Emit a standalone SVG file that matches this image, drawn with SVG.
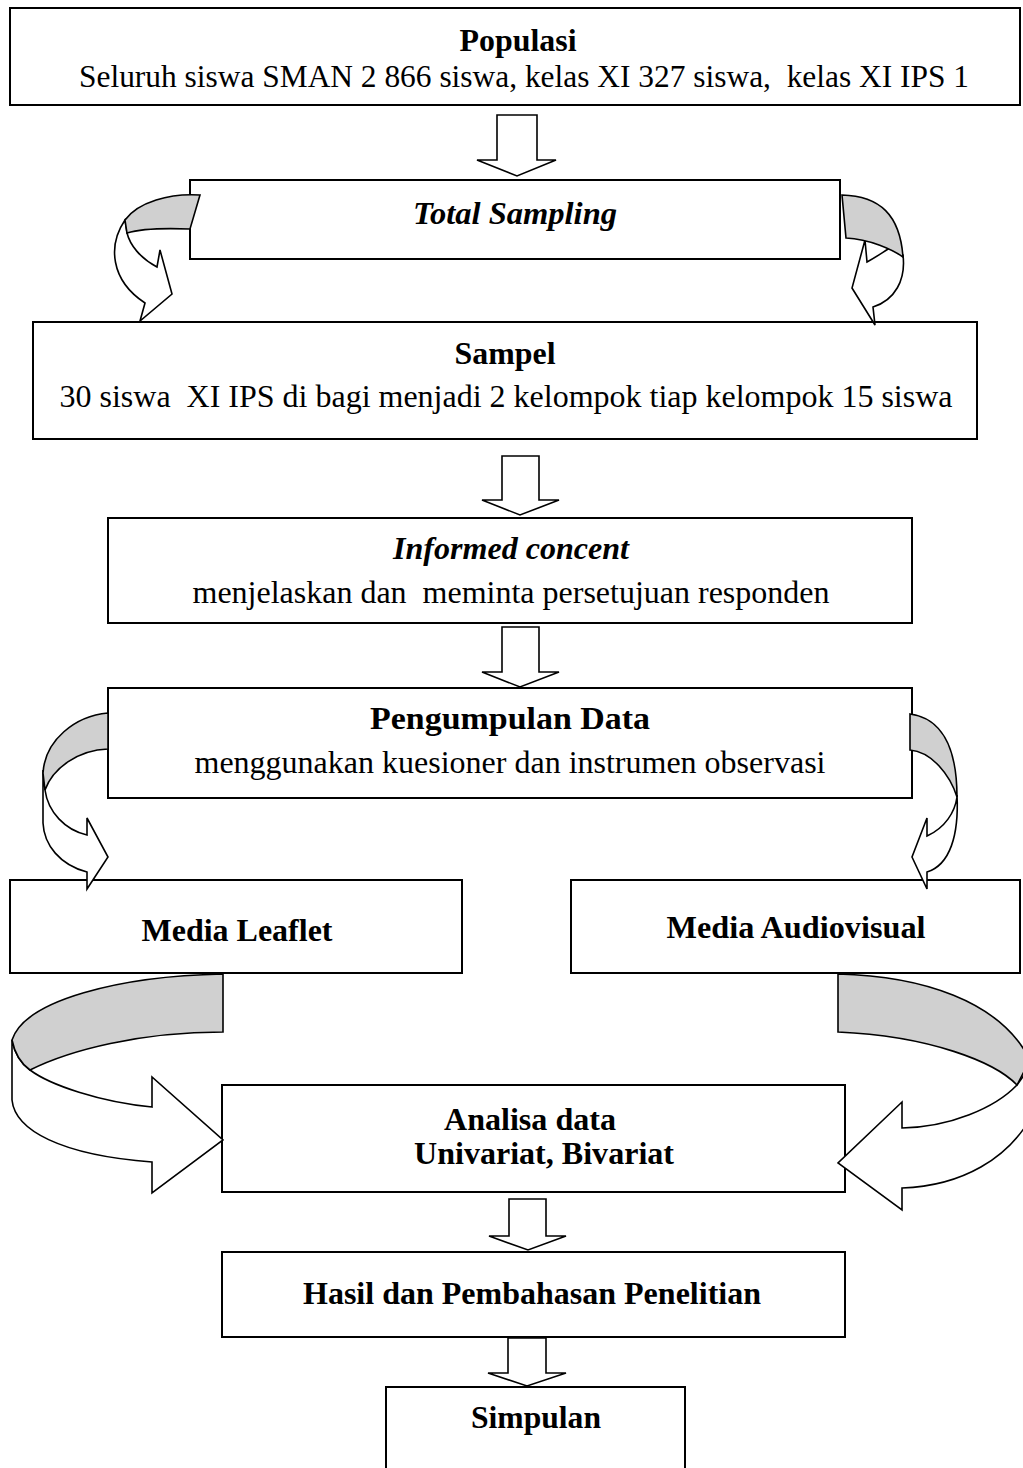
<svg xmlns="http://www.w3.org/2000/svg" width="1023" height="1468" viewBox="0 0 1023 1468" font-family="'Liberation Serif', 'Times New Roman', serif">
<style>
.box{fill:#fff;stroke:#000;stroke-width:2}
.arr{fill:#fff;stroke:#000;stroke-width:1.6;stroke-linejoin:miter}
.band{fill:#d0d0d0;stroke:#000;stroke-width:1.6;stroke-linejoin:miter}
text{font-family:'Liberation Serif','Times New Roman',serif;font-size:31px;fill:#000;text-anchor:middle;white-space:pre}
.b{font-weight:bold}
.bi{font-weight:bold;font-style:italic}
</style>
<rect width="1023" height="1468" fill="#fff"/>
<g id="populasi">
<rect class="box" x="10" y="8" width="1010" height="97"/>
<text class="b" x="518" y="51" textLength="117" lengthAdjust="spacingAndGlyphs">Populasi</text>
<text x="524" y="87" textLength="890" lengthAdjust="spacingAndGlyphs">Seluruh siswa SMAN 2 866 siswa, kelas XI 327 siswa,  kelas XI IPS 1</text>
</g>
<g id="total-sampling">
<rect class="box" x="190" y="180" width="650" height="79"/>
<text class="bi" x="515" y="224" textLength="204" lengthAdjust="spacingAndGlyphs">Total Sampling</text>
</g>
<g id="sampel">
<rect class="box" x="33" y="322" width="944" height="117"/>
<text class="b" x="505" y="364" textLength="101" lengthAdjust="spacingAndGlyphs">Sampel</text>
<text x="506" y="407" textLength="893" lengthAdjust="spacingAndGlyphs">30 siswa  XI IPS di bagi menjadi 2 kelompok tiap kelompok 15 siswa</text>
</g>
<g id="informed">
<rect class="box" x="108" y="518" width="804" height="105"/>
<text class="bi" x="511" y="559" textLength="236" lengthAdjust="spacingAndGlyphs">Informed concent</text>
<text x="511" y="603" textLength="637" lengthAdjust="spacingAndGlyphs">menjelaskan dan  meminta persetujuan responden</text>
</g>
<g id="pengumpulan">
<rect class="box" x="108" y="688" width="804" height="110"/>
<text class="b" x="510" y="729" textLength="280" lengthAdjust="spacingAndGlyphs">Pengumpulan Data</text>
<text x="510" y="773" textLength="631" lengthAdjust="spacingAndGlyphs">menggunakan kuesioner dan instrumen observasi</text>
</g>
<g id="leaflet">
<rect class="box" x="10" y="880" width="452" height="93"/>
<text class="b" x="237" y="941" textLength="191" lengthAdjust="spacingAndGlyphs">Media Leaflet</text>
</g>
<g id="audiovisual">
<rect class="box" x="571" y="880" width="449" height="93"/>
<text class="b" x="796" y="938" textLength="259" lengthAdjust="spacingAndGlyphs">Media Audiovisual</text>
</g>
<g id="analisa">
<rect class="box" x="222" y="1085" width="623" height="107"/>
<text class="b" x="530" y="1130" textLength="172" lengthAdjust="spacingAndGlyphs">Analisa data</text>
<text class="b" x="544" y="1164" textLength="260" lengthAdjust="spacingAndGlyphs">Univariat, Bivariat</text>
</g>
<g id="hasil">
<rect class="box" x="222" y="1252" width="623" height="85"/>
<text class="b" x="532" y="1304" textLength="458" lengthAdjust="spacingAndGlyphs">Hasil dan Pembahasan Penelitian</text>
</g>
<g id="simpulan">
<rect class="box" x="386" y="1387" width="299" height="100"/>
<text class="b" x="536" y="1428" textLength="130" lengthAdjust="spacingAndGlyphs">Simpulan</text>
</g>
<g id="connectors">
<polygon class="arr" points="497,115 497,160 477,160 517,176 556,160 537,160 537,115"/>
<polygon class="arr" points="502,456 502,500 482,500 520,515 559,500 539,500 539,456"/>
<polygon class="arr" points="502,627 502,672 482,672 520,687 559,672 539,672 539,627"/>
<polygon class="arr" points="509,1199 509,1236 489,1236 528,1250 566,1236 546,1236 546,1199"/>
<polygon class="arr" points="508,1338 508,1373 488,1373 527,1386 566,1373 546,1373 546,1338"/>
<path class="arr" d="M125,220 C108,245 110,280 145,303 L140,321 L172,294 L160,250 L157,267 C140,258 130,245 127,233 Z"/>
<path class="band" d="M200,195 C170,193 138,202 125,220 L127,233 C140,229 165,228 190,229 Z"/>
<path class="arr" d="M903,255 C906,280 895,300 873,307 L875,325 L852,288 L865,240 L867,262 C878,256 886,250 890,248 Z"/>
<path class="band" d="M842,195 C880,196 900,215 903,257 C893,250 870,239 846,238 Z"/>
<path class="arr" d="M43,770 L43,823 C44,845 60,865 87,872 L87,889 L108,857 L87,818 L87,835 C65,830 48,812 45,790 Z"/>
<path class="band" d="M108,713 C75,716 45,740 43,773 L45,790 C53,768 78,750 108,749 Z"/>
<path class="arr" d="M957,795 C959,835 950,865 927,872 L927,889 L912,857 L927,818 L927,836 C945,828 955,812 957,797 Z"/>
<path class="band" d="M910,714 C940,718 957,745 957,797 C950,775 932,752 910,750 Z"/>
<path class="arr" d="M12,1040 L12,1100 C15,1130 60,1155 152,1162 L152,1193 L223,1140 L152,1077 L152,1107 C100,1102 50,1085 30,1070 Q16,1060 12,1040 Z"/>
<path class="band" d="M223,974 C120,976 25,1000 12,1040 Q16,1060 30,1070 C70,1050 140,1032 223,1032 Z"/>
<path class="arr" d="M1017,1085 C995,1108 950,1127 902,1128 L902,1102 L838,1163 L902,1210 L902,1188 C960,1186 1010,1160 1035,1110 L1035,1060 Z"/>
<path class="band" d="M838,974 C920,976 1000,1000 1030,1060 L1017,1085 C995,1062 930,1036 838,1032 Z"/>
</g>
</svg>
